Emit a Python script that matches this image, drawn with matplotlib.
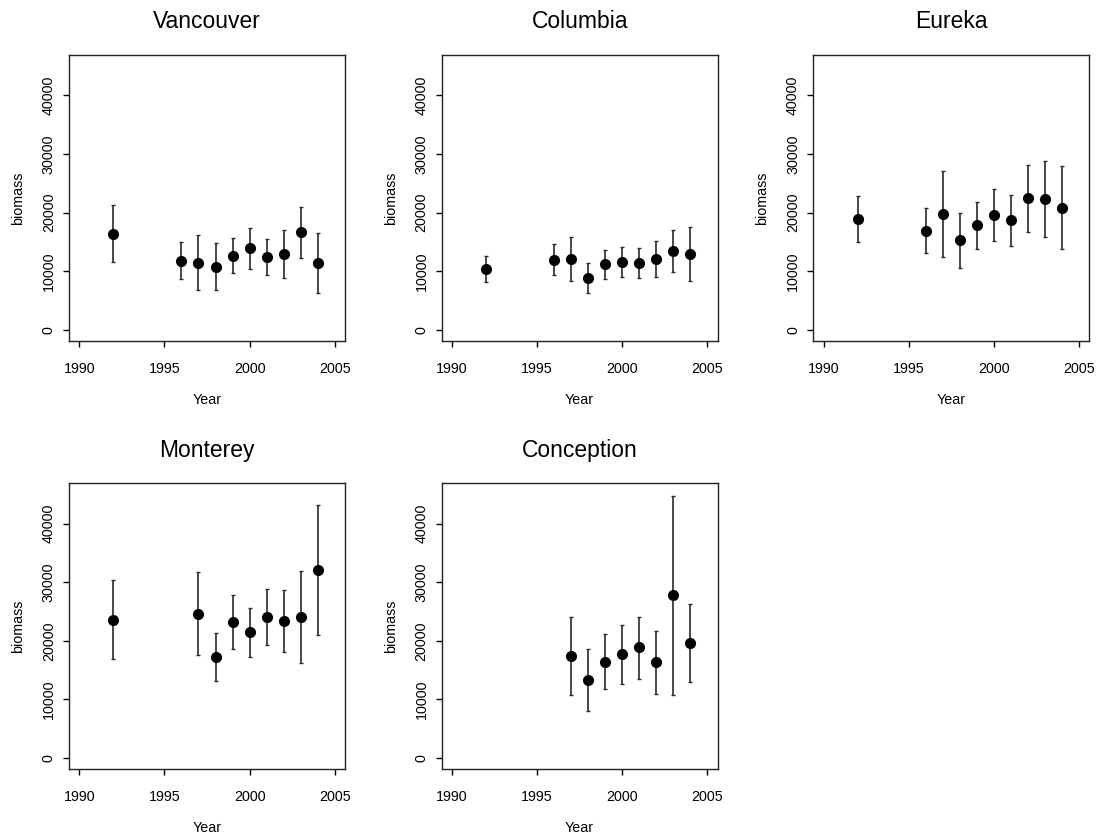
import matplotlib
matplotlib.use("Agg")
import matplotlib.pyplot as plt
import numpy as np

plt.rcParams['font.family'] = ['Liberation Sans', 'DejaVu Sans']

titles = ["Vancouver", "Columbia", "Eureka", "Monterey", "Conception"]

van_years = [1992, 1996, 1997, 1998, 1999, 2000, 2001, 2002, 2003, 2004]
van_mid = [16440, 11830, 11490, 10810, 12690, 13940, 12460, 13030, 16730, 11490]
van_hi = [21340, 14970, 16220, 14790, 15650, 17470, 15480, 17010, 21050, 16500]
van_lo = [11550, 8710, 6770, 6770, 9730, 10410, 9390, 8880, 12350, 6370]

col_years = [1992, 1996, 1997, 1998, 1999, 2000, 2001, 2002, 2003, 2004]
col_mid = [10470, 12000, 12060, 8880, 11210, 11550, 11490, 12060, 13490, 12970]
col_hi = [12580, 14730, 15820, 11380, 13600, 14110, 13940, 15140, 17010, 17530]
col_lo = [8190, 9330, 8310, 6370, 8710, 8990, 8930, 8990, 9960, 8360]

eur_years = [1992, 1996, 1997, 1998, 1999, 2000, 2001, 2002, 2003, 2004]
eur_mid = [18890, 16960, 19800, 15310, 17870, 19690, 18720, 22480, 22420, 20880]
eur_hi = [22820, 20770, 27030, 19920, 21800, 24120, 22990, 28170, 28800, 27940]
eur_lo = [15020, 13090, 12410, 10580, 13830, 15190, 14280, 16780, 15930, 13770]

mon_years = [1992, 1997, 1998, 1999, 2000, 2001, 2002, 2003, 2004]
mon_mid = [23610, 24630, 17170, 23150, 21440, 24000, 23390, 24000, 32090]
mon_hi = [30390, 31750, 21340, 27830, 25610, 28780, 28680, 31970, 43240]
mon_lo = [16830, 17510, 13140, 18610, 17290, 19340, 18150, 16270, 20930]

con_years = [1997, 1998, 1999, 2000, 2001, 2002, 2003, 2004]
con_mid = [17410, 13250, 16440, 17690, 18880, 16330, 27830, 19630]
con_hi = [24070, 18540, 21100, 22640, 24120, 21680, 44780, 26220]
con_lo = [10810, 7960, 11780, 12680, 13540, 10980, 10760, 12910]

series = [
    (van_years, van_mid, van_lo, van_hi),
    (col_years, col_mid, col_lo, col_hi),
    (eur_years, eur_mid, eur_lo, eur_hi),
    (mon_years, mon_mid, mon_lo, mon_hi),
    (con_years, con_mid, con_lo, con_hi),
]

xticks = [1990, 1995, 2000, 2005]
yticks = [0, 10000, 20000, 30000, 40000]

W, H = 1101, 839
fig = plt.figure(figsize=(W / 100, H / 100), dpi=100)

# panel boxes in pixels: (left, top, right, bottom)
boxes = [
    (69, 55, 345, 341),
    (441.7, 55, 717.7, 341),
    (813.3, 55, 1089.3, 341),
    (69, 483.3, 345, 769),
    (441.7, 483.3, 717.7, 769),
]

for (l, t, r, b), title, (yrs, mid, lo, hi) in zip(boxes, titles, series):
    ax = fig.add_axes([l / W, (H - b) / H, (r - l) / W, (b - t) / H])
    yrs = np.array(yrs); mid = np.array(mid); lo = np.array(lo); hi = np.array(hi)
    ax.errorbar(yrs, mid, yerr=[mid - lo, hi - mid], fmt='none',
                ecolor='#2a2a2a', elinewidth=1.2, capsize=1.3, capthick=1.0)
    ax.plot(yrs, mid, 'o', color='black', markersize=7.0, zorder=3)
    ax.set_xlim(1989.4, 2005.6)
    ax.set_ylim(-1880, 46900)
    ax.set_xticks(xticks)
    ax.set_yticks(yticks)
    ax.set_yticklabels([str(v) for v in yticks])
    ax.tick_params(axis='both', direction='out', length=4, width=1.0,
                   labelsize=10.3, color='black')
    ax.tick_params(axis='x', pad=11)
    ax.tick_params(axis='y', pad=5.5)
    plt.setp(ax.get_yticklabels(), rotation=90, va='center')
    for s in ax.spines.values():
        s.set_linewidth(1.0)
        s.set_color('#222222')
    ax.set_xlabel("Year", fontsize=10.3)
    ax.xaxis.set_label_coords(0.5, -63 / (b - t))
    ax.xaxis.label.set_va('baseline')
    ax.set_ylabel("biomass", fontsize=10.3)
    ax.yaxis.set_label_coords(-(69 - 18) / (r - l), 0.5)
    ax.yaxis.label.set_va('center')
    ax.text(0.5, 1 + 26.5 / (b - t), title, transform=ax.transAxes,
            ha='center', va='baseline', fontsize=16.5)

fig.savefig("out.png", dpi=100)
